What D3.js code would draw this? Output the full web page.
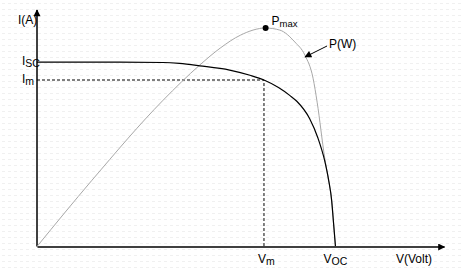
<!DOCTYPE html>
<html>
<head>
<meta charset="utf-8">
<script src="https://cdn.jsdelivr.net/npm/d3@7"></script>
<style>
  html, body { margin: 0; padding: 0; background: #fff; }
  svg { display: block; font-family: "Liberation Sans", Arial, sans-serif; }
</style>
</head>
<body>
<svg id="pv_graph"></svg>
<script>
const width  = 464
const height = 273

// I-V curve (volts, amps)
const ivVoltage = [0, 6.1, 9.3, 10.5, 12.0, 14.2, 15.7, 16.73, 17.8, 18.65, 19.15, 20.1, 20.7, 21.2, 21.5, 21.72, 21.86, 22.0]
const ivCurrent = [3.90, 3.90, 3.89, 3.87, 3.82, 3.73, 3.62, 3.52, 3.36, 3.19, 3.07, 2.70, 2.30, 1.82, 1.40, 0.97, 0.49, 0]

// P-V curve (volts, watts)
const pvVoltage = [0, 4.05, 9.3, 12.0, 13.5, 15.0, 16.85, 17.9, 19.0, 19.75, 20.35, 20.65, 21.2, 21.45, 21.72, 21.86, 22.0]
const pvPower   = [0, 22.4, 49.5, 61.4, 67.1, 71.5, 73.9, 73.2, 69.2, 64.7, 56.9, 48.8, 30.2, 23.4, 15.6, 7.8, 0]

// marked operating points
const Isc = 3.9, Im = 3.52, Vm = 16.73, Voc = 22.0
const Vpmax = 16.85, Pmax = 73.9

let svg = d3.select("#pv_graph")
            .attr("width", width)
            .attr("height", height)

// faint dotted paper texture
const defs = svg.append("defs")
const pat = defs.append("pattern")
    .attr("id", "dots")
    .attr("width", 6).attr("height", 6)
    .attr("patternUnits", "userSpaceOnUse")
pat.append("rect").attr("x", 2).attr("y", 3).attr("width", 3).attr("height", 1).attr("fill", "#f0f0f0")

defs.append("marker")
    .attr("id", "arrow")
    .attr("viewBox", "0 0 10 10")
    .attr("refX", 9).attr("refY", 5)
    .attr("markerWidth", 10).attr("markerHeight", 7)
    .attr("markerUnits", "userSpaceOnUse")
    .attr("orient", "auto")
  .append("path")
    .attr("d", "M0,0 L10,5 L0,10 z")
    .attr("fill", "#000")

svg.append("rect").attr("width", width).attr("height", height).attr("fill", "#fff")
svg.append("rect").attr("width", width).attr("height", height).attr("fill", "url(#dots)")

const x = d3.scaleLinear().domain([0, 30]).range([37, 444])
const y = d3.scaleLinear().domain([0, 5]).range([246.5, 10])
const yP = d3.scaleLinear().domain([0, 80]).range([246.5, 10])

// axes: plain lines with arrows, no ticks
const xAxis = svg.append("g")
    .attr("transform", `translate(0,${y(0)})`)
    .call(d3.axisBottom(x).tickValues([]).tickSizeOuter(0))
xAxis.select(".domain")
    .attr("stroke", "#000").attr("stroke-width", 1.5)
    .attr("marker-end", "url(#arrow)")

const yAxis = svg.append("g")
    .attr("transform", `translate(${x(0)},0)`)
    .call(d3.axisLeft(y).tickValues([]).tickSizeOuter(0))
yAxis.select(".domain")
    .attr("stroke", "#000").attr("stroke-width", 1.5)
    .attr("d", `M0,${y(0)}V${y.range()[1]}`)
    .attr("marker-end", "url(#arrow)")

// dashed guides at the max power point
svg.append("path")
    .attr("d", `M${x(0)},${y(Im)}H${x(Vm)}V${y(0)}`)
    .attr("fill", "none")
    .attr("stroke", "#000")
    .attr("stroke-width", 1)
    .attr("stroke-dasharray", "3,2")

// power curve
const pvLine = d3.line()
    .x((d, i) => x(pvVoltage[i]))
    .y(d => yP(d))
    .curve(d3.curveMonotoneX)
svg.append("path")
    .attr("d", pvLine(pvPower))
    .attr("fill", "none")
    .attr("stroke", "#a8a8a8")
    .attr("stroke-width", 1)

// current curve
const ivLine = d3.line()
    .x((d, i) => x(ivVoltage[i]))
    .y(d => y(d))
    .curve(d3.curveMonotoneX)
svg.append("path")
    .attr("d", ivLine(ivCurrent))
    .attr("fill", "none")
    .attr("stroke", "#000")
    .attr("stroke-width", 1.2)

svg.append("circle")
    .attr("cx", x(Vpmax)).attr("cy", yP(Pmax))
    .attr("r", 3).attr("fill", "#000")

// labels
const label = (px, py, main, sub, subSize) => {
    const t = svg.append("text")
        .attr("x", px).attr("y", py)
        .attr("font-size", 12)
        .attr("fill", "#000")
        .text(main)
    if (sub) {
        t.append("tspan")
            .attr("dy", 1.5)
            .attr("font-size", subSize || 10)
            .text(sub)
    }
    return t
}

label(18, 24, "I(A)")
label(22, y(Isc) + 3, "I", "SC", 10.5)
label(22, y(Im) + 3, "I", "m", 10.5)
label(x(Vm) - 6, 263, "V", "m", 10.5)
label(x(Voc) - 12, 263, "V", "OC", 10.5)
label(396, 263, "V(Volt)")
label(x(Vpmax) + 6, 25, "P", "max", 9.5)
label(329, 48, "P(W)")

// pointer to power curve
svg.append("line")
    .attr("x1", 327).attr("y1", 46)
    .attr("x2", 305).attr("y2", 57)
    .attr("stroke", "#000")
    .attr("stroke-width", 1)
    .attr("marker-end", "url(#arrow)")
</script>
</body>
</html>
